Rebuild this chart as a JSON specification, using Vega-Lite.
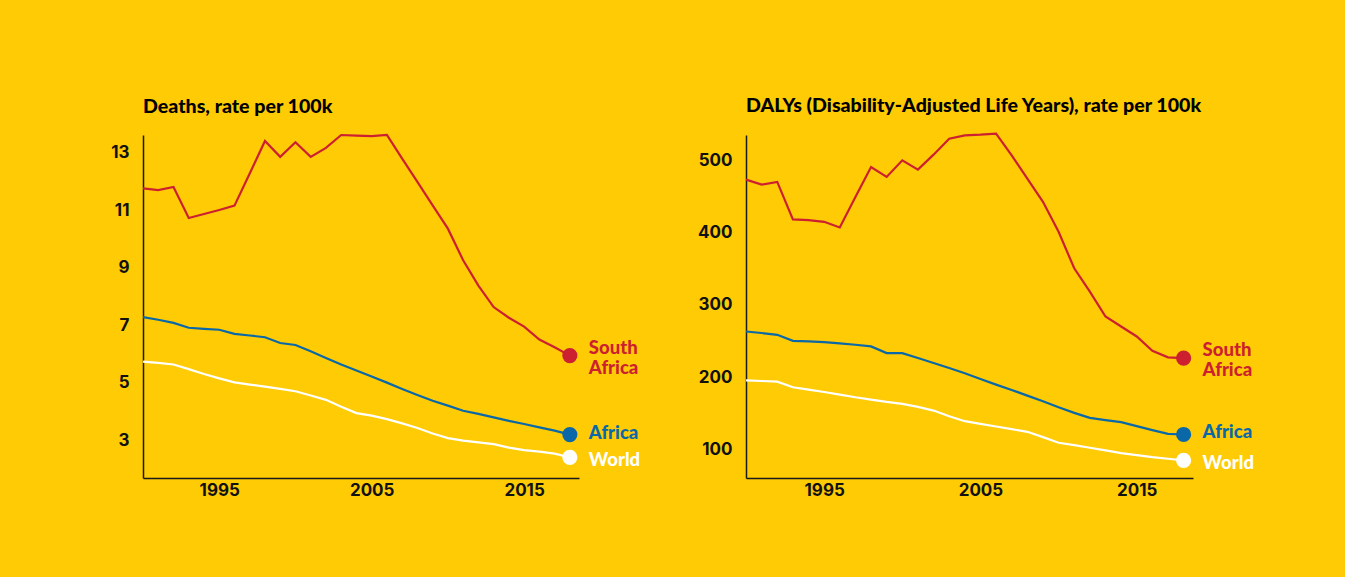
{
  "$schema": "https://vega.github.io/schema/vega-lite/v6.json",
  "background": "#FECB05",
  "padding": {"left": 110, "top": 95, "right": 93, "bottom": 80},
  "datasets": {
    "deaths": [
      {"year": 1990, "region": "South Africa", "value": 11.76},
      {"year": 1991, "region": "South Africa", "value": 11.70},
      {"year": 1992, "region": "South Africa", "value": 11.81},
      {"year": 1993, "region": "South Africa", "value": 10.73},
      {"year": 1994, "region": "South Africa", "value": 10.87},
      {"year": 1995, "region": "South Africa", "value": 11.01},
      {"year": 1996, "region": "South Africa", "value": 11.16},
      {"year": 1997, "region": "South Africa", "value": 12.28},
      {"year": 1998, "region": "South Africa", "value": 13.41},
      {"year": 1999, "region": "South Africa", "value": 12.86},
      {"year": 2000, "region": "South Africa", "value": 13.37},
      {"year": 2001, "region": "South Africa", "value": 12.86},
      {"year": 2002, "region": "South Africa", "value": 13.17},
      {"year": 2003, "region": "South Africa", "value": 13.62},
      {"year": 2004, "region": "South Africa", "value": 13.60},
      {"year": 2005, "region": "South Africa", "value": 13.58},
      {"year": 2006, "region": "South Africa", "value": 13.62},
      {"year": 2007, "region": "South Africa", "value": 12.80},
      {"year": 2008, "region": "South Africa", "value": 11.99},
      {"year": 2009, "region": "South Africa", "value": 11.17},
      {"year": 2010, "region": "South Africa", "value": 10.36},
      {"year": 2011, "region": "South Africa", "value": 9.26},
      {"year": 2012, "region": "South Africa", "value": 8.38},
      {"year": 2013, "region": "South Africa", "value": 7.63},
      {"year": 2014, "region": "South Africa", "value": 7.26},
      {"year": 2015, "region": "South Africa", "value": 6.95},
      {"year": 2016, "region": "South Africa", "value": 6.50},
      {"year": 2017, "region": "South Africa", "value": 6.23},
      {"year": 2018, "region": "South Africa", "value": 5.94},
      {"year": 1990, "region": "Africa", "value": 7.28},
      {"year": 1991, "region": "Africa", "value": 7.19},
      {"year": 1992, "region": "Africa", "value": 7.08},
      {"year": 1993, "region": "Africa", "value": 6.91},
      {"year": 1994, "region": "Africa", "value": 6.87},
      {"year": 1995, "region": "Africa", "value": 6.84},
      {"year": 1996, "region": "Africa", "value": 6.70},
      {"year": 1997, "region": "Africa", "value": 6.64},
      {"year": 1998, "region": "Africa", "value": 6.58},
      {"year": 1999, "region": "Africa", "value": 6.38},
      {"year": 2000, "region": "Africa", "value": 6.31},
      {"year": 2001, "region": "Africa", "value": 6.09},
      {"year": 2002, "region": "Africa", "value": 5.86},
      {"year": 2003, "region": "Africa", "value": 5.63},
      {"year": 2004, "region": "Africa", "value": 5.42},
      {"year": 2005, "region": "Africa", "value": 5.21},
      {"year": 2006, "region": "Africa", "value": 5.00},
      {"year": 2007, "region": "Africa", "value": 4.78},
      {"year": 2008, "region": "Africa", "value": 4.57},
      {"year": 2009, "region": "Africa", "value": 4.37},
      {"year": 2010, "region": "Africa", "value": 4.20},
      {"year": 2011, "region": "Africa", "value": 4.02},
      {"year": 2012, "region": "Africa", "value": 3.91},
      {"year": 2013, "region": "Africa", "value": 3.79},
      {"year": 2014, "region": "Africa", "value": 3.67},
      {"year": 2015, "region": "Africa", "value": 3.56},
      {"year": 2016, "region": "Africa", "value": 3.44},
      {"year": 2017, "region": "Africa", "value": 3.33},
      {"year": 2018, "region": "Africa", "value": 3.19},
      {"year": 1990, "region": "World", "value": 5.73},
      {"year": 1991, "region": "World", "value": 5.69},
      {"year": 1992, "region": "World", "value": 5.63},
      {"year": 1993, "region": "World", "value": 5.47},
      {"year": 1994, "region": "World", "value": 5.30},
      {"year": 1995, "region": "World", "value": 5.15},
      {"year": 1996, "region": "World", "value": 5.01},
      {"year": 1997, "region": "World", "value": 4.93},
      {"year": 1998, "region": "World", "value": 4.86},
      {"year": 1999, "region": "World", "value": 4.78},
      {"year": 2000, "region": "World", "value": 4.70},
      {"year": 2001, "region": "World", "value": 4.55},
      {"year": 2002, "region": "World", "value": 4.40},
      {"year": 2003, "region": "World", "value": 4.16},
      {"year": 2004, "region": "World", "value": 3.94},
      {"year": 2005, "region": "World", "value": 3.85},
      {"year": 2006, "region": "World", "value": 3.73},
      {"year": 2007, "region": "World", "value": 3.58},
      {"year": 2008, "region": "World", "value": 3.42},
      {"year": 2009, "region": "World", "value": 3.23},
      {"year": 2010, "region": "World", "value": 3.07},
      {"year": 2011, "region": "World", "value": 2.98},
      {"year": 2012, "region": "World", "value": 2.92},
      {"year": 2013, "region": "World", "value": 2.86},
      {"year": 2014, "region": "World", "value": 2.74},
      {"year": 2015, "region": "World", "value": 2.65},
      {"year": 2016, "region": "World", "value": 2.60},
      {"year": 2017, "region": "World", "value": 2.53},
      {"year": 2018, "region": "World", "value": 2.40}
    ],
    "dalys": [
      {"year": 1990, "region": "South Africa", "value": 473.3},
      {"year": 1991, "region": "South Africa", "value": 466.4},
      {"year": 1992, "region": "South Africa", "value": 470.1},
      {"year": 1993, "region": "South Africa", "value": 418.2},
      {"year": 1994, "region": "South Africa", "value": 417.2},
      {"year": 1995, "region": "South Africa", "value": 414.9},
      {"year": 1996, "region": "South Africa", "value": 407.1},
      {"year": 1997, "region": "South Africa", "value": 449.4},
      {"year": 1998, "region": "South Africa", "value": 490.8},
      {"year": 1999, "region": "South Africa", "value": 477.0},
      {"year": 2000, "region": "South Africa", "value": 500.0},
      {"year": 2001, "region": "South Africa", "value": 487.1},
      {"year": 2002, "region": "South Africa", "value": 507.8},
      {"year": 2003, "region": "South Africa", "value": 529.9},
      {"year": 2004, "region": "South Africa", "value": 534.5},
      {"year": 2005, "region": "South Africa", "value": 535.4},
      {"year": 2006, "region": "South Africa", "value": 536.8},
      {"year": 2007, "region": "South Africa", "value": 506.9},
      {"year": 2008, "region": "South Africa", "value": 474.7},
      {"year": 2009, "region": "South Africa", "value": 442.5},
      {"year": 2010, "region": "South Africa", "value": 401.1},
      {"year": 2011, "region": "South Africa", "value": 350.6},
      {"year": 2012, "region": "South Africa", "value": 318.4},
      {"year": 2013, "region": "South Africa", "value": 283.9},
      {"year": 2014, "region": "South Africa", "value": 270.1},
      {"year": 2015, "region": "South Africa", "value": 256.3},
      {"year": 2016, "region": "South Africa", "value": 236.6},
      {"year": 2017, "region": "South Africa", "value": 227.4},
      {"year": 2018, "region": "South Africa", "value": 226.4},
      {"year": 1990, "region": "Africa", "value": 263.2},
      {"year": 1991, "region": "Africa", "value": 261.1},
      {"year": 1992, "region": "Africa", "value": 258.6},
      {"year": 1993, "region": "Africa", "value": 250.3},
      {"year": 1994, "region": "Africa", "value": 249.4},
      {"year": 1995, "region": "Africa", "value": 248.5},
      {"year": 1996, "region": "Africa", "value": 246.7},
      {"year": 1997, "region": "Africa", "value": 244.8},
      {"year": 1998, "region": "Africa", "value": 242.5},
      {"year": 1999, "region": "Africa", "value": 233.3},
      {"year": 2000, "region": "Africa", "value": 233.3},
      {"year": 2001, "region": "Africa", "value": 226.4},
      {"year": 2002, "region": "Africa", "value": 219.5},
      {"year": 2003, "region": "Africa", "value": 212.6},
      {"year": 2004, "region": "Africa", "value": 205.3},
      {"year": 2005, "region": "Africa", "value": 197.5},
      {"year": 2006, "region": "Africa", "value": 189.7},
      {"year": 2007, "region": "Africa", "value": 182.3},
      {"year": 2008, "region": "Africa", "value": 174.5},
      {"year": 2009, "region": "Africa", "value": 166.7},
      {"year": 2010, "region": "Africa", "value": 158.4},
      {"year": 2011, "region": "Africa", "value": 150.6},
      {"year": 2012, "region": "Africa", "value": 143.7},
      {"year": 2013, "region": "Africa", "value": 140.5},
      {"year": 2014, "region": "Africa", "value": 137.7},
      {"year": 2015, "region": "Africa", "value": 132.2},
      {"year": 2016, "region": "Africa", "value": 126.7},
      {"year": 2017, "region": "Africa", "value": 121.6},
      {"year": 2018, "region": "Africa", "value": 120.7},
      {"year": 1990, "region": "World", "value": 195.6},
      {"year": 1991, "region": "World", "value": 194.7},
      {"year": 1992, "region": "World", "value": 193.8},
      {"year": 1993, "region": "World", "value": 186.0},
      {"year": 1994, "region": "World", "value": 182.8},
      {"year": 1995, "region": "World", "value": 179.5},
      {"year": 1996, "region": "World", "value": 175.9},
      {"year": 1997, "region": "World", "value": 172.2},
      {"year": 1998, "region": "World", "value": 169.0},
      {"year": 1999, "region": "World", "value": 165.7},
      {"year": 2000, "region": "World", "value": 163.0},
      {"year": 2001, "region": "World", "value": 158.9},
      {"year": 2002, "region": "World", "value": 153.8},
      {"year": 2003, "region": "World", "value": 146.0},
      {"year": 2004, "region": "World", "value": 139.1},
      {"year": 2005, "region": "World", "value": 135.4},
      {"year": 2006, "region": "World", "value": 131.7},
      {"year": 2007, "region": "World", "value": 128.0},
      {"year": 2008, "region": "World", "value": 124.4},
      {"year": 2009, "region": "World", "value": 117.0},
      {"year": 2010, "region": "World", "value": 109.2},
      {"year": 2011, "region": "World", "value": 106.0},
      {"year": 2012, "region": "World", "value": 102.3},
      {"year": 2013, "region": "World", "value": 98.6},
      {"year": 2014, "region": "World", "value": 95.0},
      {"year": 2015, "region": "World", "value": 92.2},
      {"year": 2016, "region": "World", "value": 89.4},
      {"year": 2017, "region": "World", "value": 87.1},
      {"year": 2018, "region": "World", "value": 84.8}
    ]
  },
  "config": {
    "view": {"stroke": null},
    "axis": {
      "grid": false,
      "ticks": false,
      "domainColor": "#1a1a1a",
      "domainWidth": 1.5,
      "labelFont": "Inter",
      "labelFontWeight": "bold",
      "labelFontSize": 17,
      "labelColor": "#111111",
      "title": null
    },
    "title": {
      "anchor": "start",
      "frame": "group",
      "font": "Lato",
      "fontSize": 19.6,
      "fontWeight": 900,
      "color": "#000000",
      "offset": 13
    }
  },
  "spacing": 56,
  "hconcat": [
    {
      "width": 436,
      "height": 343,
      "title": "Deaths, rate per 100k",
      "data": {"name": "deaths"},
      "encoding": {
        "x": {"field": "year", "type": "quantitative", "scale": {"domain": [1990, 2018.6], "nice": false, "zero": false}, "axis": {"values": [1995, 2005, 2015], "format": "d", "labelPadding": 4}},
        "y": {"field": "value", "type": "quantitative", "scale": {"domain": [1.68, 13.62], "nice": false, "zero": false}, "axis": {"values": [3, 5, 7, 9, 11, 13], "labelPadding": 14}},
        "color": {"field": "region", "type": "nominal", "scale": {"domain": ["South Africa", "Africa", "World"], "range": ["#CC1F30", "#0A68A8", "#FFFFFF"]}, "legend": null}
      },
      "layer": [
        {"mark": {"type": "line", "strokeWidth": 2.2}},
        {"transform": [{"filter": "datum.year == 2018"}], "mark": {"type": "point", "filled": true, "opacity": 1, "size": 230}},
        {"transform": [{"filter": "datum.year == 2018 && datum.region == 'South Africa'"}], "mark": {"type": "text", "align": "left", "baseline": "middle", "dx": 19, "dy": -8, "font": "Lato", "fontSize": 18.5, "fontWeight": 900, "lineBreak": " ", "lineHeight": 20}, "encoding": {"text": {"field": "region"}}},
        {"transform": [{"filter": "datum.year == 2018 && datum.region == 'Africa'"}], "mark": {"type": "text", "align": "left", "baseline": "middle", "dx": 19, "dy": -2, "font": "Lato", "fontSize": 18.5, "fontWeight": 900}, "encoding": {"text": {"field": "region"}}},
        {"transform": [{"filter": "datum.year == 2018 && datum.region == 'World'"}], "mark": {"type": "text", "align": "left", "baseline": "middle", "dx": 19, "dy": 3, "font": "Lato", "fontSize": 18.5, "fontWeight": 900}, "encoding": {"text": {"field": "region"}}}
      ]
    },
    {
      "width": 447,
      "height": 343,
      "title": "DALYs (Disability-Adjusted Life Years), rate per 100k",
      "data": {"name": "dalys"},
      "encoding": {
        "x": {"field": "year", "type": "quantitative", "scale": {"domain": [1990, 2018.6], "nice": false, "zero": false}, "axis": {"values": [1995, 2005, 2015], "format": "d", "labelPadding": 4}},
        "y": {"field": "value", "type": "quantitative", "scale": {"domain": [60.5, 535], "nice": false, "zero": false}, "axis": {"values": [100, 200, 300, 400, 500], "labelPadding": 14}},
        "color": {"field": "region", "type": "nominal", "scale": {"domain": ["South Africa", "Africa", "World"], "range": ["#CC1F30", "#0A68A8", "#FFFFFF"]}, "legend": null}
      },
      "layer": [
        {"mark": {"type": "line", "strokeWidth": 2.2}},
        {"transform": [{"filter": "datum.year == 2018"}], "mark": {"type": "point", "filled": true, "opacity": 1, "size": 230}},
        {"transform": [{"filter": "datum.year == 2018 && datum.region == 'South Africa'"}], "mark": {"type": "text", "align": "left", "baseline": "middle", "dx": 19, "dy": -8, "font": "Lato", "fontSize": 18.5, "fontWeight": 900, "lineBreak": " ", "lineHeight": 20}, "encoding": {"text": {"field": "region"}}},
        {"transform": [{"filter": "datum.year == 2018 && datum.region == 'Africa'"}], "mark": {"type": "text", "align": "left", "baseline": "middle", "dx": 19, "dy": -2, "font": "Lato", "fontSize": 18.5, "fontWeight": 900}, "encoding": {"text": {"field": "region"}}},
        {"transform": [{"filter": "datum.year == 2018 && datum.region == 'World'"}], "mark": {"type": "text", "align": "left", "baseline": "middle", "dx": 19, "dy": 3, "font": "Lato", "fontSize": 18.5, "fontWeight": 900}, "encoding": {"text": {"field": "region"}}}
      ]
    }
  ],
  "resolve": {"scale": {"color": "independent"}}
}
